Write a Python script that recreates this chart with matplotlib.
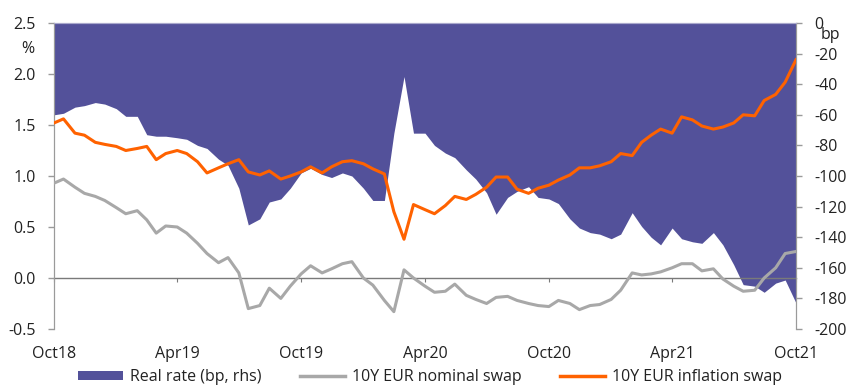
import matplotlib
matplotlib.use("Agg")
import matplotlib.pyplot as plt
import matplotlib.dates as mdates
from matplotlib.patches import Patch
from matplotlib.lines import Line2D
import pandas as pd

plt.rcParams['font.family'] = ['Open Sans', 'DejaVu Sans']

# semi-monthly observations, Oct 2018 - Oct 2021
dates = pd.date_range('2018-10-01', '2021-10-01', freq='SMS')

# 10Y EUR inflation swap (%)
inflation_swap = [
    1.52, 1.56, 1.42, 1.40, 1.33, 1.31, 1.29, 1.25, 1.27, 1.29, 1.16, 1.22, 1.25,
    1.22, 1.14, 1.03, 1.08, 1.12, 1.16, 1.04, 1.01, 1.05, 0.97, 1.00, 1.04,
    1.09, 1.03, 1.09, 1.14, 1.15, 1.12, 1.07, 1.02, 0.65, 0.38, 0.72, 0.67,
    0.63, 0.71, 0.80, 0.77, 0.82, 0.89, 0.99, 0.99, 0.87, 0.83, 0.88, 0.91,
    0.96, 1.01, 1.08, 1.08, 1.10, 1.14, 1.22, 1.20, 1.33, 1.40, 1.46, 1.42,
    1.58, 1.55, 1.49, 1.46, 1.48, 1.52, 1.60, 1.59, 1.74, 1.80, 1.92, 2.14,
]

# 10Y EUR nominal swap (%)
nominal_swap = [
    0.93, 0.97, 0.89, 0.83, 0.80, 0.76, 0.69, 0.63, 0.66, 0.57, 0.44, 0.51, 0.50,
    0.44, 0.34, 0.24, 0.15, 0.20, 0.05, -0.30, -0.27, -0.10, -0.20, -0.08, 0.04,
    0.12, 0.05, 0.09, 0.14, 0.16, 0.00, -0.07, -0.22, -0.33, 0.08, 0.00, -0.08,
    -0.14, -0.13, -0.06, -0.17, -0.21, -0.25, -0.19, -0.18, -0.22, -0.25, -0.27, -0.28,
    -0.22, -0.25, -0.31, -0.27, -0.26, -0.21, -0.12, 0.05, 0.03, 0.04, 0.06, 0.10,
    0.14, 0.14, 0.07, 0.09, -0.01, -0.08, -0.13, -0.12, 0.00, 0.10, 0.24, 0.26,
]

# real rate (bp, right axis)
real_rate = [
    -60, -59, -55, -54, -52, -53, -56, -61, -61, -73, -74, -74, -75,
    -76, -80, -82, -89, -93, -108, -132, -128, -117, -115, -108, -98,
    -95, -99, -101, -98, -100, -108, -116, -116, -72, -35, -72, -72,
    -80, -85, -88, -96, -102, -111, -125, -114, -110, -107, -114, -115,
    -118, -128, -134, -137, -138, -141, -138, -124, -133, -140, -145, -134,
    -141, -143, -144, -137, -145, -158, -171, -172, -176, -170, -168, -183,
]

left_ticks = [-0.5, 0.0, 0.5, 1.0, 1.5, 2.0, 2.5]
right_ticks = list(range(-200, 1, 20))
x_ticks = pd.date_range('2018-10-01', '2021-10-01', freq='6MS')

PURPLE = '#53519a'
ORANGE = '#ff6200'
GREY = '#a8a8a8'
AXIS = '#9a9a9a'

fig = plt.figure(figsize=(8.47, 3.89), dpi=100)
ax = fig.add_axes([54 / 847, 1 - 329 / 389, (796 - 54) / 847, (329 - 23) / 389])
ax2 = ax.twinx()

# real rate drawn as area hanging from the top (0bp) on the right axis
ax2.fill_between(dates, real_rate, 0, color=PURPLE, lw=0)
ax2.set_ylim(-200, 0)

ax.set_zorder(ax2.get_zorder() + 1)
ax.patch.set_visible(False)

ax.plot(dates, nominal_swap, color=GREY, lw=2.2, zorder=3)
ax.plot(dates, inflation_swap, color=ORANGE, lw=2.2, zorder=4)
ax.set_ylim(-0.5, 2.5)
ax.set_xlim(dates[0], dates[-1])

# zero line with small date ticks
zero = ax.secondary_xaxis(0.5 / 3)
zero.set_xticks(x_ticks)
zero.tick_params(axis='x', length=3, color='#7a7a7a', labelbottom=False)
zero.spines['bottom'].set_color('#7a7a7a')
zero.spines['bottom'].set_linewidth(1.0)

ax.set_yticks(left_ticks)
ax.set_yticklabels([f'{v:.1f}' for v in left_ticks])
ax.set_xticks(x_ticks)
ax.xaxis.set_major_formatter(mdates.DateFormatter('%b%y'))
ax.tick_params(axis='x', length=0, pad=12, labelsize=11.5, colors='#222222')
ax.tick_params(axis='y', length=4, width=1, color=AXIS, pad=9, labelsize=11.5,
               labelcolor='#222222')

ax2.set_yticks(right_ticks)
ax2.set_yticklabels([str(v) for v in right_ticks])
ax2.tick_params(axis='y', length=4, width=1, color=AXIS, pad=9, labelsize=11.5,
                labelcolor='#222222')

for a in (ax, ax2):
    a.spines['bottom'].set_visible(False)
    a.spines['left'].set_color(AXIS)
    a.spines['right'].set_color(AXIS)
    a.spines['top'].set_color('#a9a8cc')
    a.spines['top'].set_linewidth(0.8)

fig.text(28 / 847, 1 - 49 / 389, '%', fontsize=11.5, color='#222222', ha='center', va='center')
fig.text(821 / 847, 1 - 35 / 389, 'bp', fontsize=11.5, color='#222222', ha='left', va='center')

handles = [
    Patch(facecolor=PURPLE, edgecolor='none'),
    Line2D([], [], color=GREY, lw=2.5),
    Line2D([], [], color=ORANGE, lw=2.5),
]
labels = ['Real rate (bp, rhs)', '10Y EUR nominal swap', '10Y EUR inflation swap']
fig.legend(handles, labels, loc='center', bbox_to_anchor=(430 / 847, 1 - 377 / 389),
           ncol=3, frameon=False, fontsize=11.5, handlelength=2.8, handleheight=0.55,
           handletextpad=0.45, columnspacing=2.4, borderaxespad=0, borderpad=0,
           labelcolor='#222222')

fig.savefig('out.png', dpi=100)
